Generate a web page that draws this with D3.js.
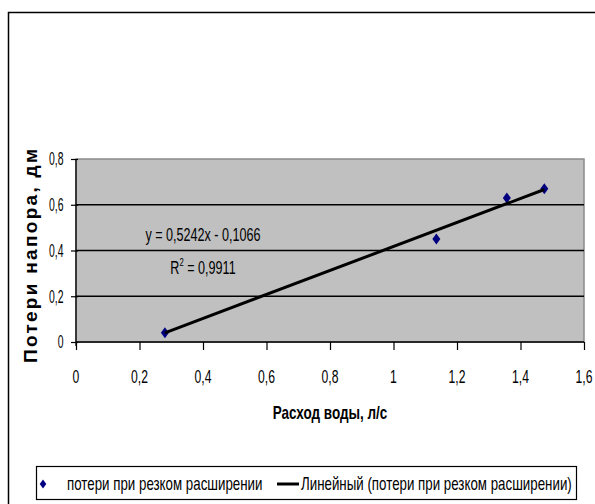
<!DOCTYPE html>
<html><head><meta charset="utf-8">
<script src="https://cdn.jsdelivr.net/npm/d3@7"></script>
<style>html,body{margin:0;padding:0;background:#fff;overflow:hidden}</style>
</head><body>
<svg id="c" width="595" height="504"></svg>
<script>
// ---- data ----
const flow = [0.28, 1.135, 1.357, 1.475];          // Расход воды, л/с
const loss = [0.04, 0.45, 0.63, 0.67];             // Потери напора, дм
const trendCoef = [0.5242, -0.1066];               // slope, intercept
const xTicks = [0, 0.2, 0.4, 0.6, 0.8, 1, 1.2, 1.4, 1.6];
const yTicks = [0, 0.2, 0.4, 0.6, 0.8];
const seriesName = "потери при резком расширении";
const trendName = "Линейный (потери при резком расширении)";
const xTitle = "Расход воды, л/с";
const yTitle = "Потери напора, дм";
const eqText = "y = 0,5242x - 0,1066";
const r2Text = "= 0,9911";

const FONT = "'Liberation Sans', Arial, sans-serif";
const svg = d3.select("#c");
const fmt = v => String(v).replace(".", ",");

// outer chart border (right/bottom off-canvas)
svg.append("rect").attr("x", 8.5).attr("y", 12.5).attr("width", 700).attr("height", 600)
  .attr("fill", "#fff").attr("stroke", "#000").attr("stroke-width", 1.5);

const L = 76, R = 584, T = 159, B = 342;
const x = d3.scaleLinear().domain([0, 1.6]).range([L, R]);
const y = d3.scaleLinear().domain([0, 0.8]).range([B, T]);

// text helper with horizontal compression
function txt(px, py, s, o) {
  const g = svg.append("g").attr("transform", `translate(${px},${py}) scale(${o.sx || 1},1)`);
  const t = g.append("text").attr("x", 0).attr("y", 0)
    .attr("font-family", FONT).attr("font-size", o.size)
    .attr("font-weight", o.weight || "normal")
    .attr("text-anchor", o.anchor || "start").attr("fill", "#000").text(s);
  if (o.dy) t.attr("dy", o.dy);
  return t;
}

// plot area
svg.append("rect").attr("x", L).attr("y", T).attr("width", R - L).attr("height", B - T)
  .attr("fill", "#c0c0c0").attr("stroke", "#8a8a8a").attr("stroke-width", 1.5);

// gridlines
svg.append("g").selectAll("line").data(yTicks.filter(d => d > 0 && d < 0.8)).join("line")
  .attr("x1", L).attr("x2", R).attr("y1", d => y(d)).attr("y2", d => y(d))
  .attr("stroke", "#000").attr("stroke-width", 1.3);

// axes via d3
const xAxis = svg.append("g").attr("transform", `translate(0,${B})`)
  .call(d3.axisBottom(x).tickValues(xTicks).tickSize(8).tickFormat(""));
xAxis.select(".domain").attr("stroke", "#000").attr("stroke-width", 1.5).attr("d", `M${L},0H${R}`);
xAxis.selectAll(".tick line").attr("stroke", "#000").attr("stroke-width", 1.2);

const yAxis = svg.append("g").attr("transform", `translate(${L},0)`)
  .call(d3.axisLeft(y).tickValues(yTicks).tickSize(5).tickFormat(""));
yAxis.select(".domain").attr("stroke", "#000").attr("stroke-width", 1.3).attr("d", `M0,${B + 4}V${T}`);
yAxis.selectAll(".tick line").attr("stroke", "#000").attr("stroke-width", 1.2).attr("x2", 2).attr("x1", -5);

// tick labels
xTicks.forEach(v => txt(x(v), 383, fmt(v), {size: 19, sx: 0.64, anchor: "middle"}));
yTicks.forEach(v => txt(63.5, y(v), fmt(v), {size: 18, sx: 0.58, anchor: "end", dy: "0.36em"}));

// axis titles
txt(330, 419, xTitle, {size: 18, weight: "bold", sx: 0.75, anchor: "middle"});
svg.append("text").attr("transform", "translate(37,256) rotate(-90)")
  .attr("font-family", FONT).attr("font-size", 19).attr("font-weight", "bold")
  .attr("text-anchor", "middle").attr("textLength", 214).attr("lengthAdjust", "spacing")
  .text(yTitle);

// markers
const diamond = "M0,-5.5L4,0L0,5.5L-4,0Z";
const pts = flow.map((f, i) => [f, loss[i]]);
svg.append("g").selectAll("path").data(pts).join("path")
  .attr("d", diamond).attr("transform", d => `translate(${x(d[0])},${y(d[1])})`)
  .attr("fill", "#000080");

// trendline
const xr = d3.extent(flow);
const line = d3.line().x(d => x(d)).y(d => y(trendCoef[0] * d + trendCoef[1]));
svg.append("path").datum(xr).attr("d", line).attr("stroke", "#000")
  .attr("stroke-width", 3).attr("fill", "none");

// equation labels
txt(203, 241, eqText, {size: 18, sx: 0.7, anchor: "middle"});
const r2 = txt(203, 274, "", {size: 18, sx: 0.7, anchor: "middle"});
r2.append("tspan").text("R");
r2.append("tspan").attr("font-size", 11).attr("dy", -8).text("2");
r2.append("tspan").attr("dy", 8).text(" " + r2Text);

// legend
svg.append("rect").attr("x", 36.5).attr("y", 466.5).attr("width", 540).attr("height", 33)
  .attr("fill", "#fff").attr("stroke", "#000").attr("stroke-width", 1.2);
svg.append("path").attr("d", "M0,-4.5L3.3,0L0,4.5L-3.3,0Z").attr("transform", "translate(43,484)")
  .attr("fill", "#000080");
txt(67, 490, seriesName, {size: 18, sx: 0.74});
svg.append("line").attr("x1", 277).attr("x2", 299).attr("y1", 484).attr("y2", 484)
  .attr("stroke", "#000").attr("stroke-width", 3);
txt(301, 490, trendName, {size: 18, sx: 0.74});
</script>
</body></html>
